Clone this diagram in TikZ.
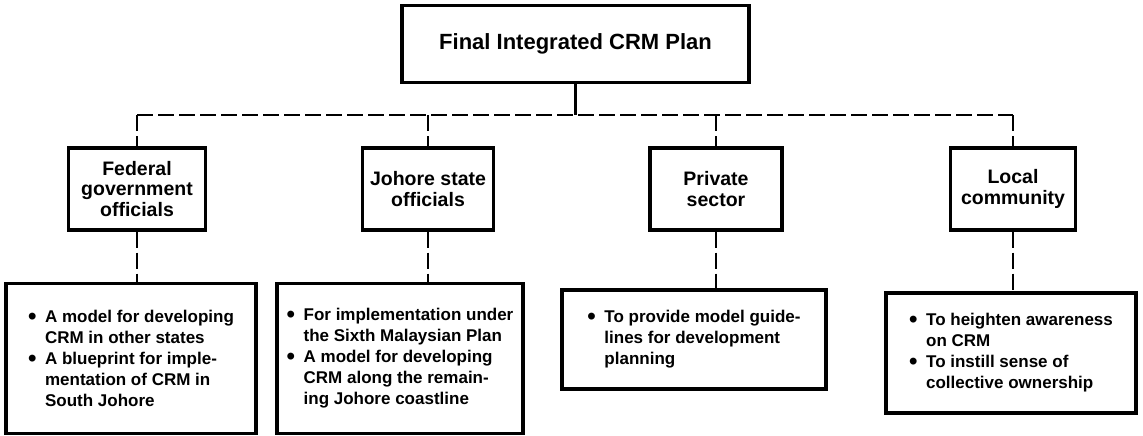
\documentclass[tikz,border=0pt]{standalone}
\usepackage{fontspec}
\setmainfont{Liberation Sans}
\usetikzlibrary{positioning}

% bullet and hanging indent for the note boxes
\newcommand{\bul}{\makebox[17pt][l]{\raisebox{-2pt}{\fontsize{24}{21}\selectfont\textbullet}}}
\newcommand{\ind}{\hspace*{17pt}}

\tikzset{
  plan/.style={draw, line width=3.4pt, minimum width=347pt, minimum height=77pt,
    font=\bfseries\fontsize{22}{26}\selectfont},
  group/.style={draw, line width=3.4pt, align=center, minimum height=82pt,
    inner sep=0pt, font=\bfseries\fontsize{19.5}{20.5}\selectfont},
  note/.style={draw, line width=3.4pt, align=left,
    font=\bfseries\fontsize{17}{21}\selectfont},
  link/.style={line width=2.4pt, dash pattern=on 16pt off 5pt},
  stem/.style={line width=2.4pt},
}

\begin{document}
\begin{tikzpicture}[x=1pt, y=-1pt]
  \useasboundingbox (0,0) rectangle (1143,436);

  \node[plan] (plan) at (575.5,44) {Final Integrated CRM Plan};

  % the four groups
  \node[group, minimum width=137pt] (fed) at (137,189) {Federal\\government\\officials};
  \node[group, minimum width=131pt] (johor) at (428,189) {Johore state\\officials};
  \node[group, minimum width=132pt] (private) at (716,189) {Private\\sector};
  \node[group, minimum width=125pt] (local) at (1013,189) {Local\\community};

  % what each group gets out of the plan
  \node[note, minimum width=250pt, minimum height=150pt] (fed-note) at (131,358.5)
    {\bul A model for developing\\\ind CRM in other states\\
     \bul A blueprint for imple-\\\ind mentation of CRM in\\\ind South Johore};
  \node[note, minimum width=246pt, minimum height=150pt] (johor-note) at (400,358.5)
    {\bul For implementation under\\\ind the Sixth Malaysian Plan\\
     \bul A model for developing\\\ind CRM along the remain-\\\ind ing Johore coastline};
  \node[note, minimum width=264pt, minimum height=99pt] (private-note) at (694,339.5)
    {\bul To provide model guide-\\\ind lines for development\\\ind planning};
  \node[note, minimum width=250pt, minimum height=120pt] (local-note) at (1011,353)
    {\bul To heighten awareness\\\ind on CRM\\
     \bul To instill sense of\\\ind collective ownership};

  % connectors
  \draw[stem] (plan.south) -- ++(0,31) coordinate (bus);
  \draw[link] (fed.north |- bus) -- (local.north |- bus);
  \foreach \g in {fed,johor,private,local} {
    \draw[link] (\g.north |- bus) -- (\g.north);
    \draw[link] (\g.south) -- (\g.south |- \g-note.north);
  }
\end{tikzpicture}
\end{document}
